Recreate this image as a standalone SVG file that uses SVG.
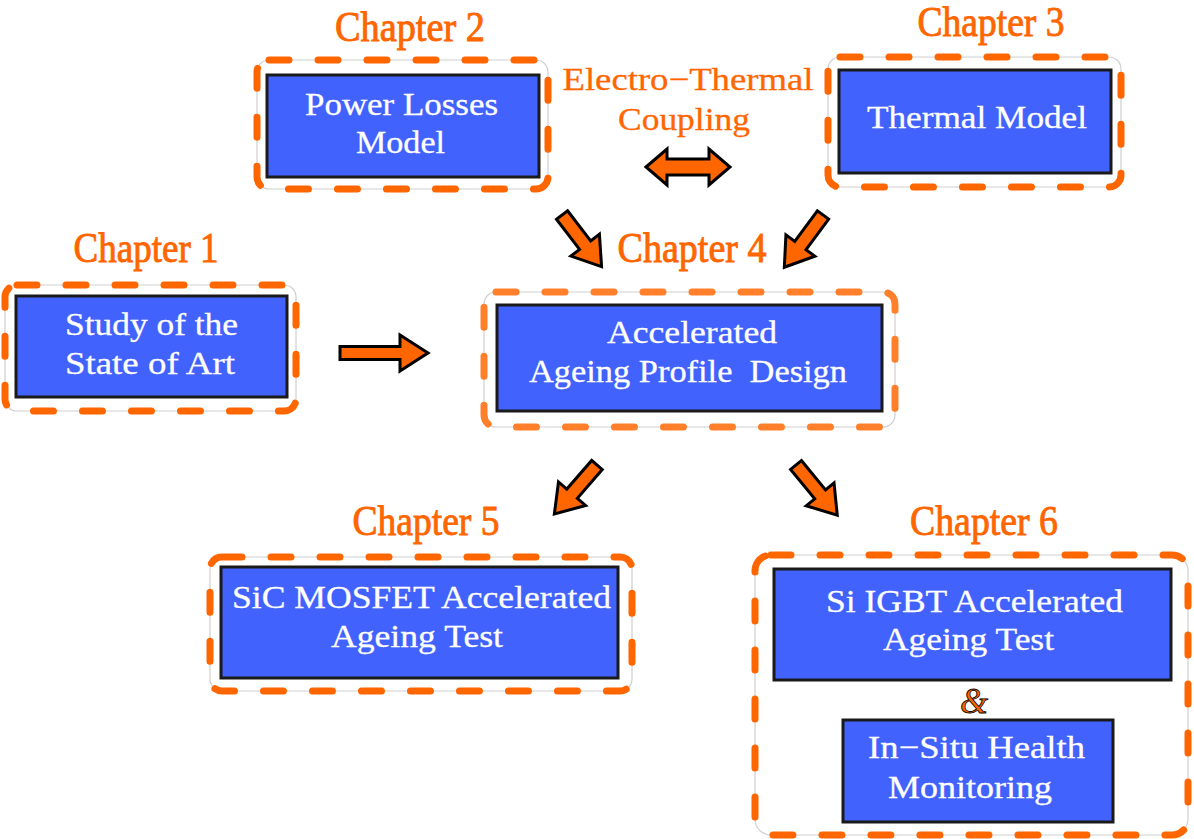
<svg xmlns="http://www.w3.org/2000/svg" xmlns:xlink="http://www.w3.org/1999/xlink" width="1194" height="839" viewBox="0 0 1194 839">
<style>
.frame{fill:#fff;stroke:#cfcfcf;stroke-width:1.2}
.dash{fill:none;stroke:#ff6600;stroke-width:7;stroke-dasharray:20 29;stroke-linecap:round}
.blue{fill:#4262fe;stroke:#1a1a1a;stroke-width:3}
.wt{font-family:"Liberation Serif",serif;font-size:32px;fill:#fff;stroke:#fff;stroke-width:0.3}
.ch{font-family:"Liberation Serif",serif;font-size:43px;fill:#ff6600;stroke:#ff6600;stroke-width:0.9}
.ot{font-family:"Liberation Serif",serif;font-size:32px;fill:#ff6600;stroke:#ff6600;stroke-width:0.3}
.arr{fill:#ff6600;stroke:#000;stroke-width:3;stroke-linejoin:miter}
</style>
<defs>
<polygon id="darr" class="arr" points="0,-7 38,-7 38,-18 65,0 38,18 38,7 0,7"/>
</defs>
<rect width="1194" height="839" fill="#fff"/>

<g id="ch2">
<text class="ch" x="410" y="41" text-anchor="middle" textLength="150" lengthAdjust="spacingAndGlyphs">Chapter 2</text>
<rect class="frame" x="257" y="60" width="291" height="129" rx="12"/>
<rect class="dash" x="257" y="60" width="291" height="129" rx="12"/>
<rect class="blue" x="267" y="75" width="272" height="102"/>
<text class="wt" x="401.5" y="115" text-anchor="middle" textLength="193" lengthAdjust="spacingAndGlyphs">Power Losses</text>
<text class="wt" x="400.5" y="153" text-anchor="middle" textLength="89" lengthAdjust="spacingAndGlyphs">Model</text>
</g>

<g id="coupling">
<text class="ot" x="688" y="90" text-anchor="middle" textLength="251" lengthAdjust="spacingAndGlyphs">Electro−Thermal</text>
<text class="ot" x="684" y="130" text-anchor="middle" textLength="132" lengthAdjust="spacingAndGlyphs">Coupling</text>
</g>

<g id="ch3">
<text class="ch" x="991" y="36" text-anchor="middle" textLength="147" lengthAdjust="spacingAndGlyphs">Chapter 3</text>
<rect class="frame" x="828" y="57" width="293" height="130" rx="12"/>
<rect class="dash" x="828" y="57" width="293" height="130" rx="12"/>
<rect class="blue" x="839" y="70" width="272" height="103"/>
<text class="wt" x="977" y="128" text-anchor="middle" textLength="220" lengthAdjust="spacingAndGlyphs">Thermal Model</text>
</g>

<g id="ch1">
<text class="ch" x="146" y="262" text-anchor="middle" textLength="145" lengthAdjust="spacingAndGlyphs">Chapter 1</text>
<rect class="frame" x="5" y="285" width="291" height="126" rx="12"/>
<rect class="dash" x="5" y="285" width="291" height="126" rx="12"/>
<rect class="blue" x="16" y="296" width="271" height="101"/>
<text class="wt" x="151.5" y="335" text-anchor="middle" textLength="173" lengthAdjust="spacingAndGlyphs">Study of the</text>
<text class="wt" x="150" y="374" text-anchor="middle" textLength="170" lengthAdjust="spacingAndGlyphs">State of Art</text>
</g>

<g id="ch4">
<text class="ch" x="692" y="262" text-anchor="middle" textLength="149" lengthAdjust="spacingAndGlyphs">Chapter 4</text>
<rect class="frame" x="484" y="292" width="411" height="135" rx="12"/>
<rect class="dash" x="484" y="292" width="411" height="135" rx="12" style="stroke:#ff7f2a"/>
<rect class="blue" x="497" y="305" width="385" height="106"/>
<text class="wt" x="692" y="343" text-anchor="middle" textLength="170" lengthAdjust="spacingAndGlyphs">Accelerated</text>
<text class="wt" x="688" y="382" text-anchor="middle" textLength="318" lengthAdjust="spacingAndGlyphs" xml:space="preserve">Ageing Profile  Design</text>
</g>

<g id="ch5">
<text class="ch" x="426" y="535" text-anchor="middle" textLength="147" lengthAdjust="spacingAndGlyphs">Chapter 5</text>
<rect class="frame" x="210" y="557" width="422" height="134" rx="12"/>
<rect class="dash" x="210" y="557" width="422" height="134" rx="12"/>
<rect class="blue" x="221" y="567" width="397" height="111"/>
<text class="wt" x="421.5" y="608" text-anchor="middle" textLength="379" lengthAdjust="spacingAndGlyphs">SiC MOSFET Accelerated</text>
<text class="wt" x="417" y="647" text-anchor="middle" textLength="172" lengthAdjust="spacingAndGlyphs">Ageing Test</text>
</g>

<g id="ch6">
<text class="ch" x="984" y="535" text-anchor="middle" textLength="148" lengthAdjust="spacingAndGlyphs">Chapter 6</text>
<rect class="frame" x="755" y="555" width="433" height="280" rx="16"/>
<rect class="dash" x="755" y="555" width="433" height="280" rx="16"/>
<rect class="blue" x="774" y="569" width="397" height="111"/>
<text class="wt" x="974.5" y="612" text-anchor="middle" textLength="297" lengthAdjust="spacingAndGlyphs">Si IGBT Accelerated</text>
<text class="wt" x="968.5" y="650" text-anchor="middle" textLength="171" lengthAdjust="spacingAndGlyphs">Ageing Test</text>
<text x="974" y="713" text-anchor="middle" font-family="Liberation Serif,serif" font-size="36" fill="#ff6600" stroke="#000" stroke-width="0.8" font-style="italic">&amp;</text>
<rect class="blue" x="843" y="720" width="270" height="102"/>
<text class="wt" x="976.5" y="758" text-anchor="middle" textLength="217" lengthAdjust="spacingAndGlyphs">In−Situ Health</text>
<text class="wt" x="970" y="798" text-anchor="middle" textLength="164" lengthAdjust="spacingAndGlyphs">Monitoring</text>
</g>

<g id="connectors">
<polygon class="arr" points="646,167 667,149 667,159 709,159 709,149 730,167 709,185 709,175 667,175 667,185"/>
<polygon class="arr" points="340,346.5 400,346.5 400,335 428,353 400,371 400,359.5 340,359.5"/>
<use xlink:href="#darr" transform="translate(562,215) rotate(52.5)"/>
<use xlink:href="#darr" transform="translate(823,215) rotate(126.5)"/>
<use xlink:href="#darr" transform="translate(597,465) rotate(131)"/>
<use xlink:href="#darr" transform="translate(796,465) rotate(50.6)"/>
</g>
</svg>
